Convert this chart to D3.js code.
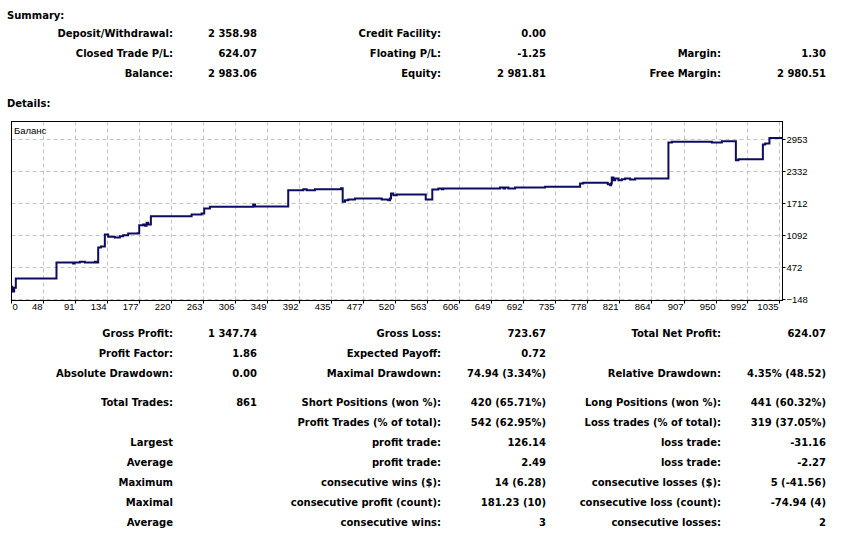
<!DOCTYPE html>
<html>
<head>
<meta charset="utf-8">
<script src="https://cdn.jsdelivr.net/npm/d3@7"></script>
<style>
  html, body { margin: 0; padding: 0; background: #ffffff; }
  svg { display: block; }
  .tbl text { font-family: "DejaVu Sans", sans-serif; font-weight: bold; font-size: 10px; fill: #000; }
  .axis text { font-family: "Liberation Sans", Arial, sans-serif; font-size: 9.5px; fill: #000; }
</style>
</head>
<body>
<svg id="chart" width="860" height="533"></svg>
<script>
// ---------- data ----------
const tradeIndex = [5.6, 6.5, 9.2, 11.4, 65.9, 88.2, 90, 97.2, 103.9, 117.3, 119.6, 121.8, 125.4, 130.7, 135.2,
  144.1, 150.9, 155.3, 162, 174.6, 176.8, 182.1, 184.4, 186.7, 188.8, 192.4, 247, 260.4, 263.9, 271.5,
  329.6, 332, 376.5, 396.7, 401.2, 412.3, 447.2, 449.5, 452.6, 457, 466, 501.8, 510.6, 512.9, 514.3,
  517.4, 521.9, 560.8, 569.6, 577.7, 582.2, 584.4, 660.4, 664.9, 667.2, 671.6, 680.6, 720.8, 767.7,
  772.1, 804.8, 808, 809.3, 810.2, 812.4, 814.7, 819.1, 823.6, 828, 834.8, 841.5, 886.1, 890.7, 944.3,
  957.7, 976.5, 980, 1012.7, 1015.8, 1021.5, 1039];
const balance = [98, 5, 80, 259, 569, 550, 569, 582, 569, 582, 569, 860, 879, 1111, 1067,
  1053, 1078, 1098, 1131, 1137, 1292, 1305, 1279, 1338, 1305, 1466, 1499, 1518, 1615, 1648,
  1693, 1654, 1970, 1989, 1970, 1989, 2009, 1744, 1777, 1790, 1809, 1790, 1777, 1809, 1906,
  1873, 1886, 1790, 1983, 2003, 1989, 2003, 2022, 2003, 2022, 2003, 2022, 2035, 2099,
  2112, 2086, 2067, 2099, 2216, 2164, 2196, 2164, 2183, 2196, 2177, 2196, 2894, 2907, 2894,
  2920, 2551, 2571, 2855, 2875, 2983, 2983];
const xTicks = [0, 48, 91, 134, 177, 220, 263, 306, 349, 392, 435, 477, 520, 563, 606, 649, 692, 735, 778, 821, 864, 907, 950, 992, 1035];
const yTicks = [-148, 472, 1092, 1712, 2332, 2953];
const xDomain = [5.6, 1039];
const yDomain = [-167, 3301];
const seriesName = "Баланс";

const summaryRows = [
  ["Deposit/Withdrawal:", "2 358.98", "Credit Facility:", "0.00", "", ""],
  ["Closed Trade P/L:", "624.07", "Floating P/L:", "-1.25", "Margin:", "1.30"],
  ["Balance:", "2 983.06", "Equity:", "2 981.81", "Free Margin:", "2 980.51"]
];
const detailRows = [
  ["Gross Profit:", "1 347.74", "Gross Loss:", "723.67", "Total Net Profit:", "624.07"],
  ["Profit Factor:", "1.86", "Expected Payoff:", "0.72", "", ""],
  ["Absolute Drawdown:", "0.00", "Maximal Drawdown:", "74.94 (3.34%)", "Relative Drawdown:", "4.35% (48.52)"],
  ["Total Trades:", "861", "Short Positions (won %):", "420 (65.71%)", "Long Positions (won %):", "441 (60.32%)"],
  ["", "", "Profit Trades (% of total):", "542 (62.95%)", "Loss trades (% of total):", "319 (37.05%)"],
  ["Largest", "", "profit trade:", "126.14", "loss trade:", "-31.16"],
  ["Average", "", "profit trade:", "2.49", "loss trade:", "-2.27"],
  ["Maximum", "", "consecutive wins ($):", "14 (6.28)", "consecutive losses ($):", "5 (-41.56)"],
  ["Maximal", "", "consecutive profit (count):", "181.23 (10)", "consecutive loss (count):", "-74.94 (4)"],
  ["Average", "", "consecutive wins:", "3", "consecutive losses:", "2"]
];

// ---------- layout ----------
const svg = d3.select("#chart");
const colRight = [173, 257, 441, 546, 721, 826];
const summaryY = [37, 57, 77];
const detailY = [337, 357, 377, 405.7, 425.7, 445.7, 465.7, 485.7, 505.7, 525.7];

const tbl = svg.append("g").attr("class", "tbl");
tbl.append("text").attr("x", 7).attr("y", 18.5).text("Summary:");
tbl.append("text").attr("x", 7).attr("y", 106.5).text("Details:");

function drawRows(rows, ys) {
  rows.forEach((row, i) => {
    row.forEach((cell, j) => {
      if (!cell) return;
      tbl.append("text")
        .attr("x", colRight[j])
        .attr("y", ys[i])
        .attr("text-anchor", "end")
        .text(cell);
    });
  });
}
drawRows(summaryRows, summaryY);
drawRows(detailRows, detailY);

// ---------- chart ----------
const L = 11.5, R = 782.5, T = 121.5, B = 300.5;
const x = d3.scaleLinear().domain(xDomain).range([L, R]).clamp(true);
const y = d3.scaleLinear().domain(yDomain).range([B, T]);
const snap = v => Math.round(v - 0.5) + 0.5;

const g = svg.append("g");
g.append("rect").attr("x", L).attr("y", T).attr("width", R - L).attr("height", B - T).attr("fill", "#ffffff");

// grid
g.append("g").selectAll("line").data(xTicks.slice(1)).join("line")
  .attr("x1", d => snap(x(d))).attr("x2", d => snap(x(d)))
  .attr("y1", T).attr("y2", B)
  .attr("stroke", "#c4c4c4").attr("stroke-width", 1).attr("stroke-dasharray", "4,3");
g.append("g").selectAll("line").data(yTicks).join("line")
  .attr("y1", d => snap(y(d))).attr("y2", d => snap(y(d)))
  .attr("x1", L).attr("x2", R)
  .attr("stroke", "#c4c4c4").attr("stroke-width", 1).attr("stroke-dasharray", "4,3");

// balance line
const pts = tradeIndex.map((t, i) => [t, balance[i]]);
const line = d3.line().x(d => x(d[0])).y(d => y(d[1])).curve(d3.curveStepAfter);
g.append("path").datum(pts).attr("d", line)
  .attr("fill", "none").attr("stroke", "#0c0c60").attr("stroke-width", 2)
  .attr("stroke-linejoin", "miter");

// frame
g.append("rect").attr("x", L).attr("y", T).attr("width", R - L).attr("height", B - T)
  .attr("fill", "none").attr("stroke", "#000").attr("stroke-width", 1);

// series label
g.append("text").attr("class", "axis").attr("x", 14).attr("y", 133.5)
  .attr("font-family", "Liberation Sans, Arial, sans-serif").attr("font-size", "9.5px").text(seriesName);

// x axis
const xAxis = d3.axisBottom(x).tickValues(xTicks).tickSize(3).tickPadding(2).tickFormat(d3.format("d"));
const gx = svg.append("g").attr("class", "axis").attr("transform", `translate(0,${B})`).call(xAxis);
gx.select(".domain").remove();
gx.selectAll(".tick").attr("transform", d => `translate(${snap(x(d))},0)`);
gx.selectAll(".tick line").attr("stroke", "#000");
gx.selectAll(".tick text")
  .attr("text-anchor", (d, i) => i === 0 ? "start" : "end")
  .attr("x", (d, i) => i === 0 ? 1 : -1)
  .attr("y", 3).attr("dy", "0.71em");

// y axis
const yAxis = d3.axisRight(y).tickValues(yTicks).tickSize(3).tickPadding(1).tickFormat(d3.format("d"));
const gy = svg.append("g").attr("class", "axis").attr("transform", `translate(${R},0)`).call(yAxis);
gy.select(".domain").remove();
gy.selectAll(".tick").attr("transform", d => `translate(0,${snap(y(d))})`);
gy.selectAll(".tick line").attr("stroke", "#000");
gy.selectAll(".tick text").attr("x", 4);
</script>
</body>
</html>
